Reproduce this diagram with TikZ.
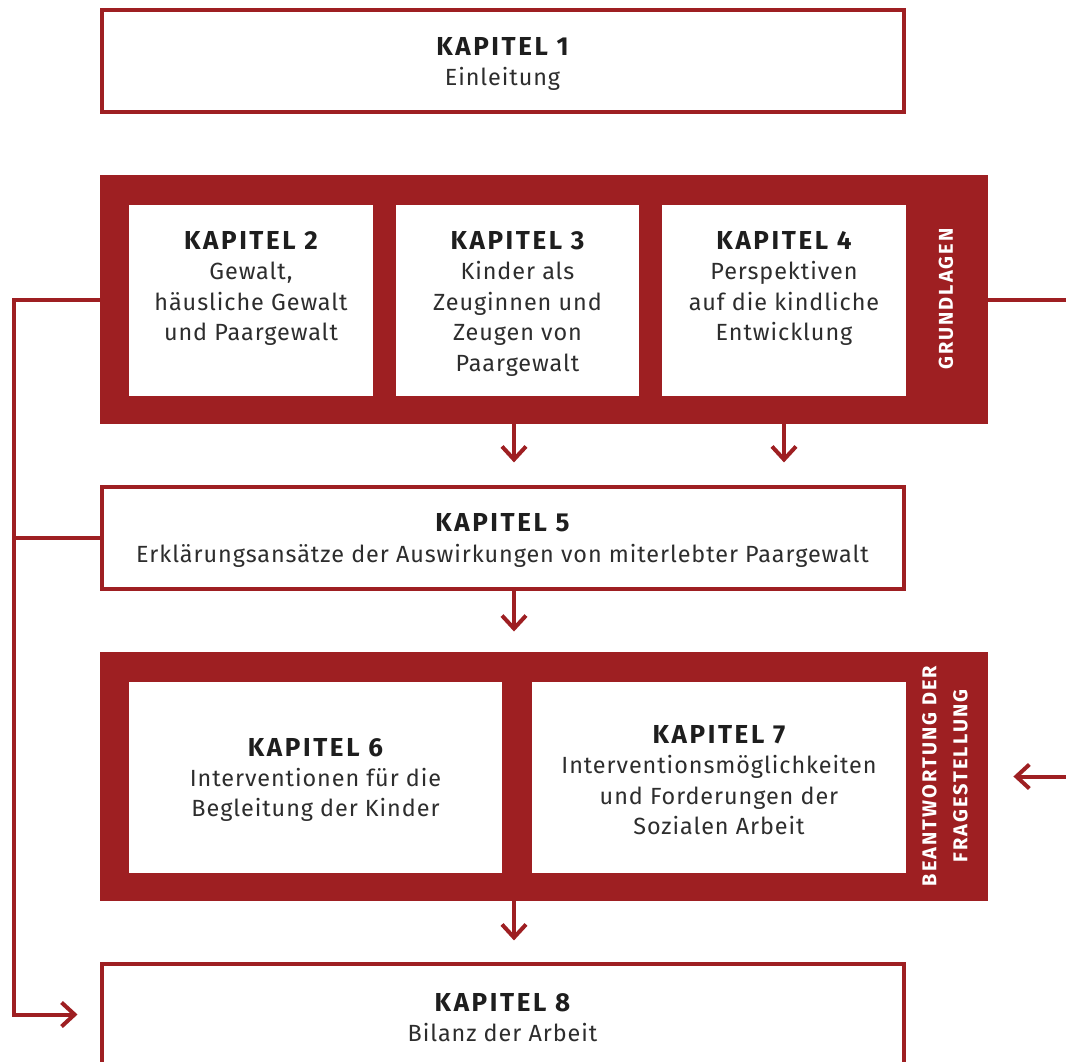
\documentclass[tikz,border=0pt]{standalone}
\usepackage{fontspec}
\setmainfont{Fira Sans}[LetterSpace=4]
\newfontfamily\headfont{Fira Sans}[LetterSpace=10]
\usepackage{tikz}
\usetikzlibrary{arrows.meta}
\definecolor{kapred}{RGB}{158,31,34}
\definecolor{kaphead}{RGB}{30,30,30}
\definecolor{kapbody}{RGB}{45,45,45}
\newcommand{\kapitel}[1]{{\headfont\bfseries\color{kaphead}\fontsize{13}{15}\selectfont\rule{0pt}{12pt}KAPITEL #1}}

\begin{document}
\begin{tikzpicture}[x=0.5pt, y=-0.5pt,
    kapbox/.style={draw=kapred, line width=2pt, fill=white, inner sep=0pt,
      minimum width=401pt, minimum height=51pt, align=center, text=kapbody,
      font=\fontsize{11.7}{15.2}\selectfont},
    redbox/.style={fill=kapred, inner sep=0pt, minimum width=444pt, minimum height=124.5pt},
    inbox/.style={fill=white, inner sep=0pt, minimum height=95.5pt},
    kaptext/.style={align=center, inner sep=0pt, text=kapbody, font=\fontsize{11.7}{15.2}\selectfont},
    sidelab/.style={rotate=90, align=center, inner sep=0pt, text=white,
      font=\headfont\bfseries\fontsize{10}{15.5}\selectfont},
    line/.style={draw=kapred, line width=2pt},
    flow/.style={line, -{Straight Barb[length=6.5pt,width=12pt,line width=2pt]}}]
  \clip (0,0) rectangle (1066,1061);

  \coordinate (mid) at (514,0);
  \coordinate (lft) at (14,0);
  \coordinate (rgt) at (1080,0);

  \node[kapbox] (k1) at (502.5,61) {\kapitel{1}\\Einleitung};

  \node[redbox] (grund) at (544,299.5) {};
  \node[inbox, minimum width=122pt] (k2) at (251,300) {};
  \node[inbox, minimum width=121.5pt] (k3) at (517.5,300) {};
  \node[inbox, minimum width=122pt] (k4) at (784,300) {};
  \node[kaptext, anchor=north] (k2t) at (251,225) {\kapitel{2}\\Gewalt,\\häusliche Gewalt\\und Paargewalt};
  \node[kaptext, anchor=north] (k3t) at (517.5,225) {\kapitel{3}\\Kinder als\\Zeuginnen und\\Zeugen von\\Paargewalt};
  \node[kaptext, anchor=north] (k4t) at (784,225) {\kapitel{4}\\Perspektiven\\auf die kindliche\\Entwicklung};
  \node[sidelab] (glab) at (946,299) {GRUNDLAGEN};

  \node[kapbox] (k5) at (502.5,537.5) {\kapitel{5}\\Erklärungsansätze der Auswirkungen von miterlebter Paargewalt};

  \node[redbox] (frage) at (544,776.5) {};
  \node[inbox, minimum width=186.5pt] (k6) at (315.5,777) {};
  \node[inbox, minimum width=187pt] (k7) at (719,777) {};
  \node[kaptext] (k6t) at (k6) {\kapitel{6}\\Interventionen für die\\Begleitung der Kinder};
  \node[kaptext] (k7t) at (k7) {\kapitel{7}\\Interventionsmöglichkeiten\\und Forderungen der\\Sozialen Arbeit};
  \node[sidelab] (flab) at (945,776) {BEANTWORTUNG DER\\FRAGESTELLUNG};

  \node[kapbox] (k8) at (502.5,1014.5) {\kapitel{8}\\Bilanz der Arbeit};

  \draw[flow] (grund.south -| mid) -- ++(0,38);
  \draw[flow] (grund.south -| k4) -- ++(0,38);
  \draw[flow] (k5.south -| mid) -- ++(0,41);
  \draw[flow] (frage.south -| mid) -- ++(0,39);

  \draw[flow] (grund.west) -- (grund.west -| lft) |- ([xshift=-11pt]k8.west);
  \draw[line] (k5.west) -- (k5.west -| lft);
  \draw[line] (grund.east) -- (grund.east -| rgt);
  \draw[flow] (frage.east -| rgt) -- ([xshift=12.5pt]frage.east);
\end{tikzpicture}
\end{document}
